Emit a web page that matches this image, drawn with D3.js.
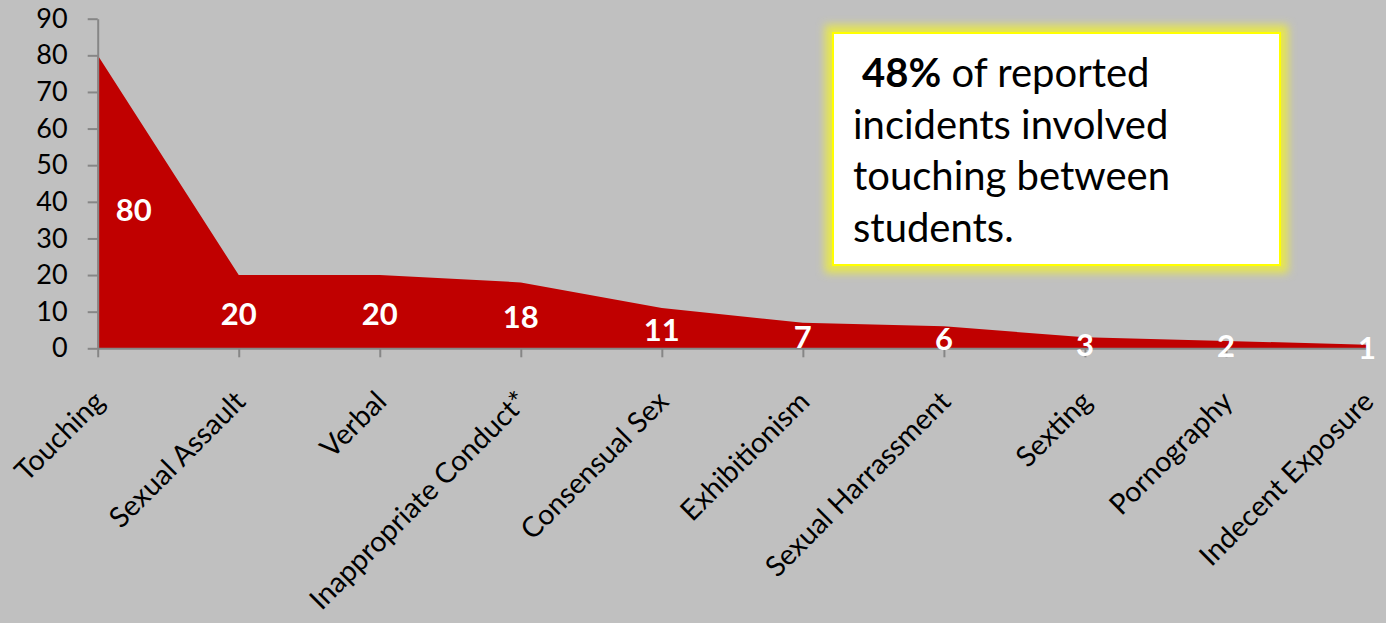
<!DOCTYPE html>
<html>
<head>
<meta charset="utf-8">
<script src="https://cdn.jsdelivr.net/npm/d3@7"></script>
<style>
   body { margin: 0; background: #C0C0C0; }
   svg { display: block; }
   .axis path, .axis line { stroke: #868686; stroke-width: 2; }
   .axis text { font-family: Lato, sans-serif; font-size: 27px; fill: #000; }
   .xaxis text { font-size: 28.5px; }
</style>
</head>
<body>
<div id="chart"></div>
<script>

// CATEGORIES
var categories = ['Touching', 'Sexual Assault', 'Verbal', 'Inappropriate Conduct*', 'Consensual Sex',
   'Exhibitionism', 'Sexual Harrassment', 'Sexting', 'Pornography', 'Indecent Exposure'];

// INCIDENT COUNTS
var incidents = [80, 20, 20, 18, 11, 7, 6, 3, 2, 1];

// Y TICK VALUES
var yTicks = [0, 10, 20, 30, 40, 50, 60, 70, 80, 90];

// CALLOUT TEXT LINES
var calloutBold = '48%';
var calloutLines = [' of reported', 'incidents involved', 'touching between', 'students.'];

// SETTINGS
var settings = {
   width: 1386,
   height: 623,
   fill: '#C00000',
   left: 97.7,
   right: 1367,
   top: 18.7,
   bottom: 348.3
};

// GENERATE CANVAS
var canvas = d3.select('#chart').append('svg')
   .attr('width', settings.width)
   .attr('height', settings.height)

// X-SCALING
var xScale = d3.scalePoint()
   .domain(categories)
   .range([settings.left, settings.right])

// Y-SCALING
var yScale = d3.scaleLinear()
   .domain([0, 90])
   .range([settings.bottom, settings.top])

// AREA PATH METHOD
var pathify = d3.area()
   .x((d, i) => { return xScale(categories[i]) })
   .y0(yScale(0))
   .y1((d) => { return yScale(d) })

// ADD AREA
canvas.append('path')
   .attr('fill', settings.fill)
   .attr('d', pathify(incidents))

// Y-AXIS
var yAxis = d3.axisLeft(yScale)
   .tickValues(yTicks)
   .tickSize(10)
   .tickSizeOuter(0)
   .tickPadding(20)

canvas.append('g')
   .attr('class', 'axis')
   .attr('transform', 'translate(' + settings.left + ',0)')
   .call(yAxis)

// X-AXIS
var xAxis = d3.axisBottom(xScale)
   .tickSize(9)
   .tickSizeOuter(0)

var xg = canvas.append('g')
   .attr('class', 'axis xaxis')
   .attr('transform', 'translate(0,' + settings.bottom + ')')
   .call(xAxis)

// ROTATE X LABELS -- BASELINE END JUST BELOW EACH TICK
xg.selectAll('.tick text')
   .attr('text-anchor', 'end')
   .attr('y', 0)
   .attr('dy', 0)
   .attr('transform', 'translate(8,55) rotate(-45)')

// ADD DATA LABELS
canvas.selectAll('text.value')
   .data(incidents)
      .enter().append('text')
         .attr('class', 'value')
         .attr('x', (d, i) => { return xScale(categories[i]) + (i == 0 ? 36 : 0) })
         .attr('y', (d, i) => { return yScale(d / 2) + (i == 0 ? 8 : 2) })
         .attr('dy', '0.35em')
         .attr('text-anchor', 'middle')
         .attr('font-family', 'Lato, sans-serif')
         .attr('font-weight', 'bold')
         .attr('font-size', '31px')
         .attr('fill', '#fff')
         .text((d) => { return d })

// CALLOUT GLOW FILTER
canvas.append('defs').append('filter')
   .attr('id', 'glow')
   .attr('x', '-15%').attr('y', '-15%')
   .attr('width', '130%').attr('height', '130%')
   .append('feGaussianBlur')
      .attr('stdDeviation', 4)

// CALLOUT BOX
var box = canvas.append('g')

box.append('rect')
   .attr('x', 833).attr('y', 33)
   .attr('width', 447).attr('height', 232)
   .attr('fill', 'none')
   .attr('stroke', '#E6E650')
   .attr('stroke-width', 16)
   .attr('filter', 'url(#glow)')

box.append('rect')
   .attr('x', 833).attr('y', 33)
   .attr('width', 447).attr('height', 232)
   .attr('fill', '#fff')
   .attr('stroke', '#FFFF00')
   .attr('stroke-width', 2)

// CALLOUT TEXT
var callout = box.append('text')
   .attr('font-family', 'Lato, sans-serif')
   .attr('font-size', '40px')
   .attr('fill', '#000')

calloutLines.forEach((line, i) => {
   var t = callout.append('tspan')
      .attr('x', i == 0 ? 862 : 853)
      .attr('y', 87 + i * 51.7)
   if (i == 0) {
      t.append('tspan').attr('font-weight', 'bold').text(calloutBold)
      t.append('tspan').text(line)
   } else {
      t.text(line)
   }
});

</script>
</body>
</html>
